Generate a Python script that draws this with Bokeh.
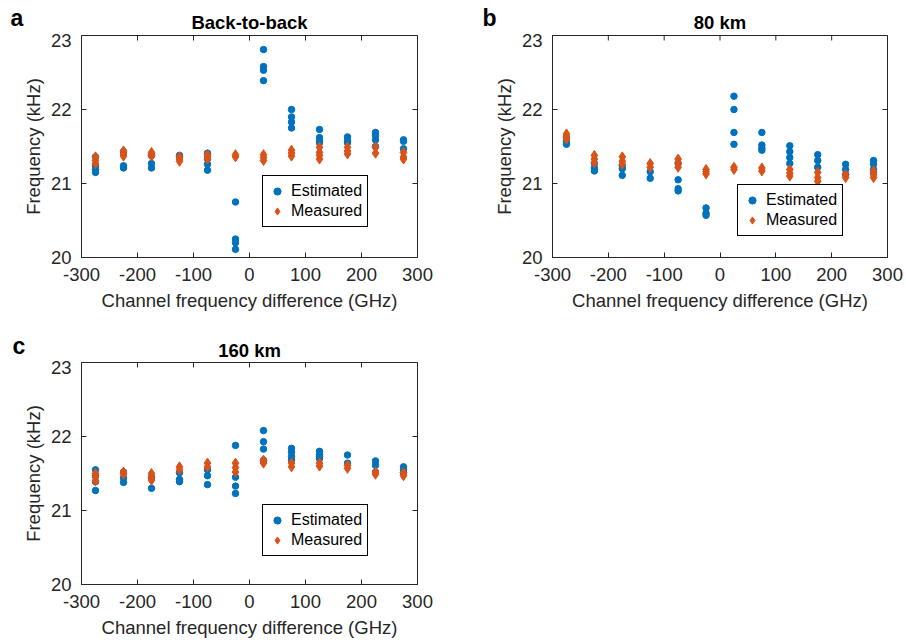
import math
from bokeh.plotting import figure
from bokeh.models import (Range1d, FixedTicker, Label, Legend, LegendItem, ColumnDataSource)
from bokeh.layouts import column, row
from bokeh.embed import file_html
from bokeh.resources import INLINE

# ---------------- data ----------------
channels = [-275, -225, -175, -125, -75, -25, 25, 75, 125, 175, 225, 275]
x_ticks = [-300, -200, -100, 0, 100, 200, 300]
y_ticks = [20, 21, 22, 23]

est_a = [
    [21.36, 21.24, 21.19, 21.15],
    [21.43, 21.24, 21.21],
    [21.38, 21.27, 21.21],
    [21.38, 21.35],
    [21.41, 21.33, 21.26, 21.18],
    [20.75, 20.25, 20.20, 20.11],
    [22.81, 22.58, 22.53, 22.39],
    [22.00, 21.90, 21.83, 21.75],
    [21.73, 21.62, 21.58, 21.55],
    [21.63, 21.58, 21.55],
    [21.69, 21.65, 21.59, 21.50],
    [21.59, 21.57, 21.47],
]
meas_a = [
    [21.36, 21.31, 21.27],
    [21.44, 21.40, 21.37],
    [21.42, 21.39, 21.37],
    [21.36, 21.33, 21.30],
    [21.39, 21.36, 21.33],
    [21.39, 21.36],
    [21.39, 21.35, 21.31],
    [21.45, 21.41, 21.37],
    [21.49, 21.42, 21.38, 21.33],
    [21.49, 21.44, 21.40],
    [21.49, 21.41],
    [21.42, 21.36, 21.33],
]

est_b = [
    [21.62, 21.57, 21.53],
    [21.27, 21.21, 21.17],
    [21.24, 21.20, 21.11],
    [21.16, 21.07],
    [21.27, 21.05, 20.93, 20.90],
    [20.67, 20.60, 20.57],
    [22.18, 22.00, 21.69, 21.53],
    [21.69, 21.52, 21.48, 21.45],
    [21.51, 21.43, 21.35, 21.27],
    [21.39, 21.31, 21.22],
    [21.26, 21.19, 21.12],
    [21.31, 21.26, 21.19, 21.15],
]
meas_b = [
    [21.67, 21.63, 21.60],
    [21.38, 21.33, 21.28],
    [21.36, 21.30, 21.26],
    [21.27, 21.22],
    [21.33, 21.28, 21.22],
    [21.19, 21.16, 21.13],
    [21.22, 21.19],
    [21.21, 21.17],
    [21.19, 21.14, 21.10],
    [21.15, 21.08, 21.03],
    [21.12, 21.08],
    [21.17, 21.12, 21.08],
]

est_c = [
    [21.55, 21.47, 21.39, 21.27],
    [21.52, 21.44, 21.38],
    [21.45, 21.30],
    [21.51, 21.42, 21.39],
    [21.55, 21.47, 21.35],
    [21.88, 21.45, 21.33, 21.23],
    [22.08, 21.93, 21.83, 21.68],
    [21.84, 21.79, 21.73, 21.68],
    [21.80, 21.76, 21.73, 21.70],
    [21.75, 21.64],
    [21.67, 21.61, 21.52],
    [21.59, 21.55, 21.51],
]
meas_c = [
    [21.50, 21.45, 21.40],
    [21.52, 21.49],
    [21.50, 21.45, 21.41],
    [21.59, 21.55],
    [21.64, 21.59],
    [21.64, 21.58, 21.52],
    [21.68, 21.64],
    [21.64, 21.59],
    [21.64, 21.60],
    [21.61, 21.57],
    [21.52, 21.49],
    [21.51, 21.47],
]

titles = ["Back-to-back", "80 km", "160 km"]
letters = ["a", "b", "c"]
x_label = "Channel frequency difference (GHz)"
y_label = "Frequency (kHz)"

BLUE = "#0072BD"
RED = "#D95319"
INK = "#262626"
FONT = "Liberation Sans"
FS = "18.5px"


def flatten(groups):
    xs, ys = [], []
    for cx, vals in zip(channels, groups):
        for v in vals:
            xs.append(cx)
            ys.append(v)
    return dict(x=xs, y=ys)


def header(width, height, letter, letter_x, letter_y, title, title_x, title_y):
    h = figure(frame_width=width, frame_height=height, output_backend="svg",
               toolbar_location=None, x_axis_type=None, y_axis_type=None,
               min_border=0, min_border_left=0, min_border_right=0,
               min_border_top=0, min_border_bottom=0, frame_align=False,
               x_range=Range1d(0, 1), y_range=Range1d(0, 1))
    h.title.visible = False
    h.outline_line_color = None
    h.grid.visible = False
    h.add_layout(Label(x=letter_x, y=letter_y, x_units="screen", y_units="screen",
                       text=letter, text_align="left", text_baseline="middle",
                       text_font=FONT, text_font_size="23px", text_font_style="bold",
                       text_color="black"))
    h.add_layout(Label(x=title_x, y=title_y, x_units="screen", y_units="screen",
                       text=title, text_align="center", text_baseline="middle",
                       text_font=FONT, text_font_size=FS, text_font_style="bold",
                       text_color="black"))
    return h


def make_panel(est, meas, fw, bl, br, bt, bb, legend_loc):
    p = figure(frame_width=fw, frame_height=222, output_backend="svg",
               toolbar_location=None, frame_align=False,
               x_range=Range1d(x_ticks[0], x_ticks[-1]),
               y_range=Range1d(y_ticks[0], y_ticks[-1]),
               min_border_left=bl, min_border_right=br, min_border_top=bt,
               min_border_bottom=bb, x_axis_label=x_label, y_axis_label=y_label)
    p.title.visible = False
    p.grid.visible = False
    p.outline_line_color = INK
    p.outline_line_width = 1
    p.background_fill_color = "white"
    p.border_fill_color = "white"

    for ax, ticks in ((p.xaxis[0], x_ticks), (p.yaxis[0], y_ticks)):
        ax.ticker = FixedTicker(ticks=ticks)
        ax.major_label_overrides = {t: str(t) for t in ticks}
        ax.major_tick_in = 5
        ax.major_tick_out = 0
        ax.minor_tick_line_color = None
        ax.axis_line_color = INK
        ax.major_tick_line_color = INK
        ax.major_label_text_font = FONT
        ax.major_label_text_font_size = FS
        ax.major_label_text_color = INK
        ax.axis_label_text_font = FONT
        ax.axis_label_text_font_size = FS
        ax.axis_label_text_font_style = "normal"
        ax.axis_label_text_color = INK
    p.xaxis[0].major_label_standoff = 10
    p.xaxis[0].axis_label_standoff = 6
    p.yaxis[0].major_label_standoff = 10
    p.yaxis[0].axis_label_standoff = 4

    # mirrored inward ticks on the top and right edges of the box (clipped to frame)
    p.scatter(x=x_ticks, y=[y_ticks[-1]] * len(x_ticks), marker="dash", size=10,
              angle=math.pi / 2, line_color=INK, line_width=1)
    p.scatter(x=[x_ticks[-1]] * len(y_ticks), y=y_ticks, marker="dash", size=10,
              angle=0, line_color=INK, line_width=1)

    r_est = p.scatter("x", "y", source=ColumnDataSource(flatten(est)), marker="circle",
                      size=6.5, fill_color=BLUE, line_color=BLUE)
    r_meas = p.scatter("x", "y", source=ColumnDataSource(flatten(meas)), marker="diamond",
                       size=10, fill_color=RED, line_color=RED)

    legend = Legend(items=[LegendItem(label="Estimated", renderers=[r_est]),
                           LegendItem(label="Measured", renderers=[r_meas])],
                    location=legend_loc, border_line_color="black", border_line_width=1,
                    border_line_alpha=1, background_fill_color="white",
                    background_fill_alpha=1, padding=5, spacing=0, margin=0,
                    label_text_font=FONT, label_text_font_size="16px",
                    label_text_color="black", label_height=20, glyph_height=20,
                    glyph_width=18, label_standoff=5)
    p.add_layout(legend, "center")
    return p


# panel a: page x 0..452, frame 81..417 ; panel b: page x 452..906, frame 552..887
ha = header(452, 33, letters[0], 10, 16, titles[0], 81 + 168, 11.5)
pa = make_panel(est_a, meas_a, 336, 81, 35, 2, 73, (181, 30))
hb = header(454, 33, letters[1], 30, 16, titles[1], 100 + 167.5, 11.5)
pb = make_panel(est_b, meas_b, 335, 100, 19, 2, 73, (185, 21))
hc = header(452, 30, letters[2], 12, 15, titles[2], 81 + 168, 10.5)
pc = make_panel(est_c, meas_c, 336, 81, 35, 2, 55, (181, 28))

layout = column(row(column(ha, pa, spacing=0), column(hb, pb, spacing=0), spacing=0),
                column(hc, pc, spacing=0), spacing=0)
open("out.html", "w").write(file_html(layout, INLINE))
